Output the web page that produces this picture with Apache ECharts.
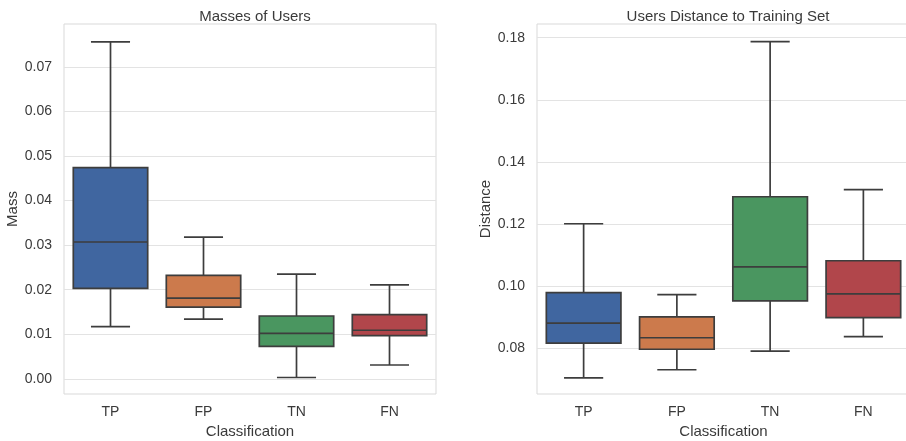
<!DOCTYPE html>
<html>
<head>
<meta charset="utf-8">
<script src="https://cdn.jsdelivr.net/npm/echarts@6/dist/echarts.min.js"></script>
<style>
html,body{margin:0;padding:0;background:#fff;}
#chart{width:906px;height:441px;}
</style>
</head>
<body>
<div id="chart"></div>
<script>
const categories = ['TP', 'FP', 'TN', 'FN'];
// [lower whisker, Q1, median, Q3, upper whisker]
const massStats = [
  [0.0117, 0.0203, 0.0307, 0.0474, 0.0756],
  [0.0134, 0.0161, 0.0181, 0.0232, 0.0318],
  [0.0003, 0.0073, 0.0102, 0.0141, 0.0235],
  [0.0031, 0.0097, 0.0109, 0.0144, 0.0211]
];
const distStats = [
  [0.0705, 0.0817, 0.0881, 0.0979, 0.1201],
  [0.0731, 0.0797, 0.0834, 0.0901, 0.0973],
  [0.0791, 0.0953, 0.1062, 0.1288, 0.1787],
  [0.0838, 0.0899, 0.0975, 0.1082, 0.1311]
];
const massTicks = [0.00, 0.01, 0.02, 0.03, 0.04, 0.05, 0.06, 0.07];
const distTicks = [0.08, 0.10, 0.12, 0.14, 0.16, 0.18];
const boxColors = ['#4066a0', '#cc7a4c', '#4a9660', '#b1464b'];

const FONT = 'Liberation Sans, Arial, sans-serif';
const TXT = '#3a3a3a';

function renderBox(params, api) {
  const i = api.value(0);
  const vals = [1, 2, 3, 4, 5].map(k => api.value(k));
  const band = api.size([1, 0])[0];
  const bw = band * 0.8, cw = band * 0.42;
  const p = vals.map(v => api.coord([i, v]));
  const cx = p[0][0];
  const st = { stroke: '#3d3d3d', lineWidth: 1.7 };
  return {
    type: 'group',
    children: [
      { type: 'line', shape: { x1: cx, y1: p[0][1], x2: cx, y2: p[1][1] }, style: st },
      { type: 'line', shape: { x1: cx, y1: p[3][1], x2: cx, y2: p[4][1] }, style: st },
      { type: 'line', shape: { x1: cx - cw / 2, y1: p[0][1], x2: cx + cw / 2, y2: p[0][1] }, style: st },
      { type: 'line', shape: { x1: cx - cw / 2, y1: p[4][1], x2: cx + cw / 2, y2: p[4][1] }, style: st },
      { type: 'rect', shape: { x: cx - bw / 2, y: p[3][1], width: bw, height: p[1][1] - p[3][1] },
        style: { fill: boxColors[params.dataIndex], stroke: '#3d3d3d', lineWidth: 1.7 } },
      { type: 'line', shape: { x1: cx - bw / 2, y1: p[2][1], x2: cx + bw / 2, y2: p[2][1] }, style: st }
    ]
  };
}

function xAxisCfg(gi) {
  return {
    type: 'category', gridIndex: gi, data: categories,
    name: 'Classification', nameLocation: 'middle', nameGap: 29,
    nameTextStyle: { color: TXT, fontSize: 15, fontFamily: FONT },
    axisLine: { show: false }, axisTick: { show: false },
    axisLabel: { color: TXT, fontSize: 14, fontFamily: FONT, margin: 11 },
    splitLine: { show: false }
  };
}
function yAxisCfg(gi, name, min, max, ticks) {
  return {
    type: 'value', gridIndex: gi, min: min, max: max,
    name: name, nameLocation: 'middle', nameGap: 44,
    nameTextStyle: { color: TXT, fontSize: 15, fontFamily: FONT },
    axisLine: { show: false },
    axisTick: { show: false, customValues: ticks },
    axisLabel: { color: TXT, fontSize: 14, fontFamily: FONT, margin: 12,
      customValues: ticks, formatter: v => v.toFixed(2) },
    splitLine: { show: true, lineStyle: { color: '#e3e3e3', width: 1 } }
  };
}

const chart = echarts.init(document.getElementById('chart'), null, { renderer: 'canvas' });
chart.setOption({
  animation: false,
  backgroundColor: '#fff',
  title: [
    { text: 'Masses of Users', left: 250, top: 4, textAlign: 'center',
      textStyle: { color: TXT, fontSize: 15, fontWeight: 'normal', fontFamily: FONT } },
    { text: 'Users Distance to Training Set', left: 723, top: 4, textAlign: 'center',
      textStyle: { color: TXT, fontSize: 15, fontWeight: 'normal', fontFamily: FONT } }
  ],
  grid: [
    { left: 64, width: 372, top: 24, height: 370, outerBoundsMode: 'none', containLabel: false,
      show: true, borderColor: '#d9d9d9', borderWidth: 1, backgroundColor: 'transparent' },
    { left: 537, width: 373, top: 24, height: 370, outerBoundsMode: 'none', containLabel: false,
      show: true, borderColor: '#d9d9d9', borderWidth: 1, backgroundColor: 'transparent' }
  ],
  xAxis: [xAxisCfg(0), xAxisCfg(1)],
  yAxis: [
    yAxisCfg(0, 'Mass', -0.0034, 0.0796, massTicks),
    yAxisCfg(1, 'Distance', 0.0653, 0.1844, distTicks)
  ],
  series: [
    { type: 'custom', xAxisIndex: 0, yAxisIndex: 0, renderItem: renderBox,
      encode: { x: 0, y: [1, 2, 3, 4, 5] },
      data: massStats.map((s, i) => [i].concat(s)) },
    { type: 'custom', xAxisIndex: 1, yAxisIndex: 1, renderItem: renderBox,
      encode: { x: 0, y: [1, 2, 3, 4, 5] },
      data: distStats.map((s, i) => [i].concat(s)) }
  ]
});
</script>
</body>
</html>
